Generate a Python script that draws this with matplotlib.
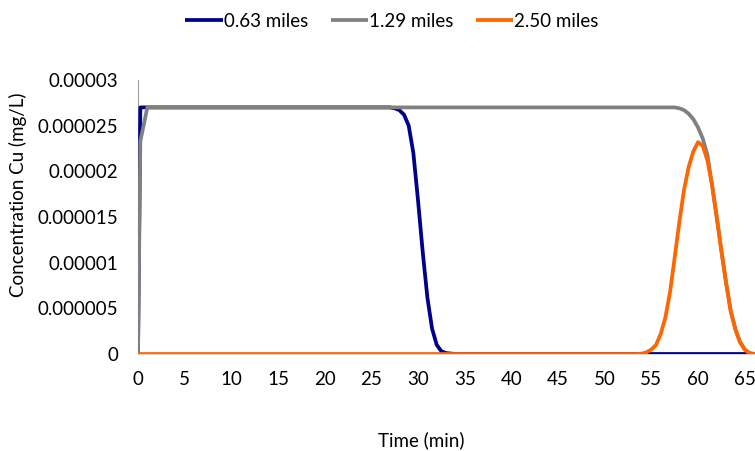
import matplotlib.pyplot as plt
import numpy as np

plt.rcParams['font.family'] = ['Lato', 'DejaVu Sans']

# concentration values are in units of 1e-5 mg/L
t_063 = [0, 0.25, 27.0, 27.5, 28.0, 28.5, 29.0, 29.5, 30.0, 30.5, 31.0, 31.5, 32.0, 32.5, 33.0, 34.0, 66.5]
c_063 = [0, 2.7, 2.7, 2.69, 2.67, 2.62, 2.5, 2.2, 1.68, 1.12, 0.62, 0.28, 0.1, 0.03, 0.01, 0, 0]

t_129 = [0, 0.25, 1.0, 57.5, 58.0, 58.5, 59.0, 59.5, 60.0, 60.5, 61.0, 61.5, 62.0, 62.5, 63.0,
         63.5, 64.0, 64.5, 65.0, 65.5, 66.0, 66.5]
c_129 = [0, 2.33, 2.7, 2.7, 2.69, 2.67, 2.63, 2.57, 2.48, 2.36, 2.18, 1.85, 1.5, 1.13, 0.78,
         0.47, 0.27, 0.13, 0.05, 0.01, 0, 0]

t_250 = [0, 53.5, 54.0, 54.5, 55.0, 55.5, 56.0, 56.5, 57.0, 57.5, 58.0, 58.5, 59.0, 59.5, 60.0,
         60.5, 61.0, 61.5, 62.0, 62.5, 63.0, 63.5, 64.0, 64.5, 65.0, 65.5, 66.0, 66.5]
c_250 = [0, 0, 0.005, 0.02, 0.05, 0.1, 0.22, 0.4, 0.68, 1.06, 1.45, 1.8, 2.05, 2.22, 2.32,
         2.28, 2.12, 1.85, 1.5, 1.13, 0.78, 0.47, 0.27, 0.13, 0.05, 0.01, 0, 0]

labels = ['0.63 miles', '1.29 miles', '2.50 miles']
colors = ['#00008b', '#808080', '#ff6600']

x_ticks = list(range(0, 70, 5))
y_ticks = [0, 0.000005, 0.00001, 0.000015, 0.00002, 0.000025, 0.00003]
y_ticklabels = ['0', '0.000005', '0.00001', '0.000015', '0.00002', '0.000025', '0.00003']

fig = plt.figure(figsize=(7.55, 4.51), dpi=100)
ax = fig.add_axes([138 / 755, 1 - 354 / 451, 617 / 755, 274 / 451])

series = [(t_063, c_063), (t_129, c_129), (t_250, c_250)]
for (t, c), lab, col in zip(series, labels, colors):
    ax.plot(t, np.array(c) * 1e-5, color=col, lw=2.7, label=lab, solid_capstyle='butt',
            solid_joinstyle='round')

ax.set_xlim(0, 66.1)
ax.set_ylim(0, 0.00003)
ax.set_xticks(x_ticks)
ax.set_yticks(y_ticks)
ax.set_yticklabels(y_ticklabels)
ax.tick_params(axis='both', length=0, labelsize=13.5, colors='#000000')
ax.tick_params(axis='x', pad=12)
ax.tick_params(axis='y', pad=14)

for side in ['top', 'right']:
    ax.spines[side].set_visible(False)
ax.spines['left'].set_color('#a0a0a0')
ax.spines['bottom'].set_color('#d9d9d9')
ax.spines['left'].set_zorder(0.5)
ax.spines['bottom'].set_zorder(0.5)

ax.set_xlabel('Time (min)', fontsize=13.5, va='center')
ax.set_ylabel('Concentration Cu (mg/L)', fontsize=13.5, va='center')
ax.xaxis.set_label_coords(0.459, -0.314)
ax.yaxis.set_label_coords(-0.195, 0.58)

ax.legend(loc='upper center', bbox_to_anchor=(392 / 755, 1 + 4 / 451), bbox_transform=fig.transFigure,
          ncol=3, frameon=False, fontsize=13.5, handlelength=2.0, handletextpad=0.05,
          columnspacing=1.2)

fig.savefig('out.png', dpi=100)
